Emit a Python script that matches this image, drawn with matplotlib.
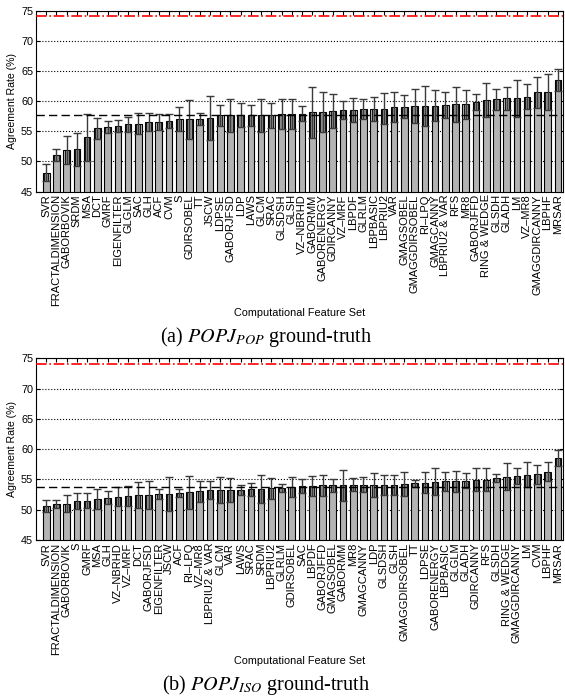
import matplotlib
matplotlib.use("Agg")
import matplotlib.pyplot as plt
import numpy as np

plt.rcParams['font.family'] = ['Liberation Sans', 'DejaVu Sans']
plt.rcParams['mathtext.fontset'] = 'stix'

# panel (a): POPJ_POP ground-truth
labels_pop = ["SVR", "FRACTALDIMENSION", "GABORBOVIK", "SRDM", "MSA", "DCT", "GMRF",
              "EIGENFILTER", "GLGLM", "SAC", "GLH", "ACF", "CVM", "S", "GDIRSOBEL", "TT",
              "JSCW", "LDPSE", "GABORJFSD", "LDP", "LAWS", "GLCM", "SRAC", "GLSDSH", "GLSH",
              "VZ\u2013NBRHD", "GABORMM", "GABORENERGY", "GDIRCANNY", "VZ\u2013MRF", "LBPDF",
              "GLRLM", "LBPBASIC", "LBPRIU2", "VAR", "GMAGSOBEL", "GMAGGDIRSOBEL",
              "RI\u2013LPQ", "GMAGCANNY", "LBPRIU2 & VAR", "RFS", "MR8", "GABORJFFD",
              "RING & WEDGE", "GLSDH", "GLADH", "LM", "VZ\u2013MR8", "GMAGGDIRCANNY",
              "LBPHF", "MRSAR"]
rate_pop = [48.1, 51.05, 51.9, 52.0, 54.0, 55.5, 55.65, 55.9, 56.15, 56.3, 56.6, 56.6,
            56.75, 57.0, 57.0, 57.0, 57.25, 57.65, 57.65, 57.65, 57.65, 57.65, 57.65,
            57.9, 57.9, 57.95, 58.15, 58.25, 58.4, 58.5, 58.55, 58.7, 58.75, 58.8, 59.1,
            59.1, 59.25, 59.25, 59.25, 59.4, 59.5, 59.5, 59.9, 60.25, 60.3, 60.5, 60.5,
            60.75, 61.5, 61.6, 63.5]
err_pop = [1.4, 1.05, 2.3, 2.7, 3.9, 1.8, 1.0, 0.95, 1.2, 1.7, 1.5, 1.3, 1.2, 2.0, 3.2,
           1.0, 3.65, 1.8, 2.8, 2.0, 1.7, 2.7, 2.1, 2.5, 2.5, 1.25, 4.25, 3.3, 2.8, 1.5,
           1.95, 1.7, 2.0, 2.65, 2.5, 1.95, 2.8, 3.3, 2.55, 2.15, 2.9, 2.4, 1.3, 2.8, 1.8,
           1.95, 3.1, 2.05, 2.6, 3.0, 1.8]
mean_pop = 57.7
human_pop = 74.1

# panel (b): POPJ_ISO ground-truth
labels_iso = ["SVR", "FRACTALDIMENSION", "GABORBOVIK", "S", "GMRF", "MSA", "GLH",
              "VZ\u2013NBRHD", "VZ\u2013MRF", "DCT", "GABORJFSD", "EIGENFILTER", "JSCW", "ACF",
              "RI\u2013LPQ", "VZ\u2013MR8", "LBPRIU2 & VAR", "GLCM", "VAR", "LAWS", "SRAC",
              "SRDM", "LBPRIU2", "GLRLM", "GDIRSOBEL", "SAC", "LBPDF", "GABORJFFD",
              "GMAGSOBEL", "GABORMM", "MR8", "GMAGCANNY", "LDP", "GLSDSH", "GLSH",
              "GMAGGDIRSOBEL", "TT", "LDPSE", "GABORENERGY", "LBPBASIC", "GLGLM", "GLADH",
              "GDIRCANNY", "RFS", "GLSDH", "RING & WEDGE", "GMAGGDIRCANNY", "LM", "CVM",
              "LBPHF", "MRSAR"]
rate_iso = [50.6, 50.95, 50.95, 51.45, 51.5, 51.7, 52.0, 52.15, 52.25, 52.4, 52.4, 52.6,
            52.6, 52.75, 52.85, 53.05, 53.2, 53.25, 53.25, 53.25, 53.35, 53.4, 53.5, 53.6,
            53.75, 53.85, 53.9, 54.0, 54.0, 54.0, 54.1, 54.1, 54.1, 54.15, 54.15, 54.25,
            54.35, 54.45, 54.65, 54.7, 54.7, 54.75, 54.95, 54.95, 55.2, 55.45, 55.5, 55.8,
            55.85, 56.3, 58.5]
err_iso = [1.0, 0.7, 1.4, 1.3, 1.25, 1.65, 1.1, 1.55, 1.6, 2.1, 2.3, 0.8, 2.8, 0.7, 2.75,
           1.75, 1.5, 2.2, 1.9, 0.9, 1.05, 2.3, 1.8, 0.7, 1.6, 1.15, 1.65, 1.75, 1.1, 2.5,
           1.05, 1.25, 2.0, 1.65, 1.65, 2.05, 0.55, 1.75, 2.15, 1.55, 1.7, 1.25, 1.9, 1.9,
           0.7, 2.25, 1.3, 2.0, 1.6, 1.5, 1.3]
mean_iso = 53.7
human_iso = 74.0


def draw_panel(ax, labels, rates, errs, mean_line, human_line):
    x = np.arange(1, len(labels) + 1)
    rates = np.array(rates)
    errs = np.array(errs)
    ax.bar(x, rates - 45, bottom=45, width=0.65, color='#b3b3b3',
           edgecolor='black', linewidth=0.8, zorder=3)
    # darker inner box between lower error and the bar top
    ax.bar(x, errs, bottom=rates - errs, width=0.42, color='#8a8a8a',
           edgecolor='black', linewidth=0.6, zorder=4)
    ax.errorbar(x, rates, yerr=errs, fmt='none', ecolor='#3a3a3a',
                elinewidth=1.0, capsize=2.6, capthick=1.0, zorder=5)
    ax.axhline(mean_line, color='black', linestyle=(0, (6, 3)), linewidth=1.0, zorder=6)
    ax.axhline(human_line, color='red', linestyle='-.', linewidth=1.2, zorder=6)

    ax.set_xlim(0, 51.5)
    ax.set_ylim(45, 75)
    ax.set_yticks([45, 50, 55, 60, 65, 70, 75])
    ax.set_xticks(x)
    ax.set_xticklabels(labels, rotation=90, fontsize=8)
    ax.tick_params(axis='y', labelsize=7.8, direction='in', length=3, right=True, pad=2)
    ax.tick_params(axis='x', direction='in', length=3, top=True, pad=2)
    ax.yaxis.grid(True, linestyle=':', color='black', linewidth=0.8)
    ax.set_axisbelow(True)
    for s in ax.spines.values():
        s.set_linewidth(0.8)
    ax.set_ylabel("Agreement Rate (%)", fontsize=7.6, labelpad=3)
    ax.set_xlabel("Computational Feature Set", fontsize=7.8, labelpad=1)


fig = plt.figure(figsize=(5.65, 6.99), dpi=100)
ax1 = fig.add_axes([0.0637, 0.726, 0.9327, 0.2582])
ax2 = fig.add_axes([0.0637, 0.2275, 0.9327, 0.26])

draw_panel(ax1, labels_pop, rate_pop, err_pop, mean_pop, human_pop)
draw_panel(ax2, labels_iso, rate_iso, err_iso, mean_iso, human_iso)

fig.text(0.471, 1 - 337 / 699, r"(a) $POPJ_{POP}$ ground-truth", fontsize=14.5,
         family='Liberation Serif', ha='center', va='center')
fig.text(0.471, 1 - 685 / 699, r"(b) $POPJ_{ISO}$ ground-truth", fontsize=14.5,
         family='Liberation Serif', ha='center', va='center')

fig.savefig("out.png", dpi=100)
